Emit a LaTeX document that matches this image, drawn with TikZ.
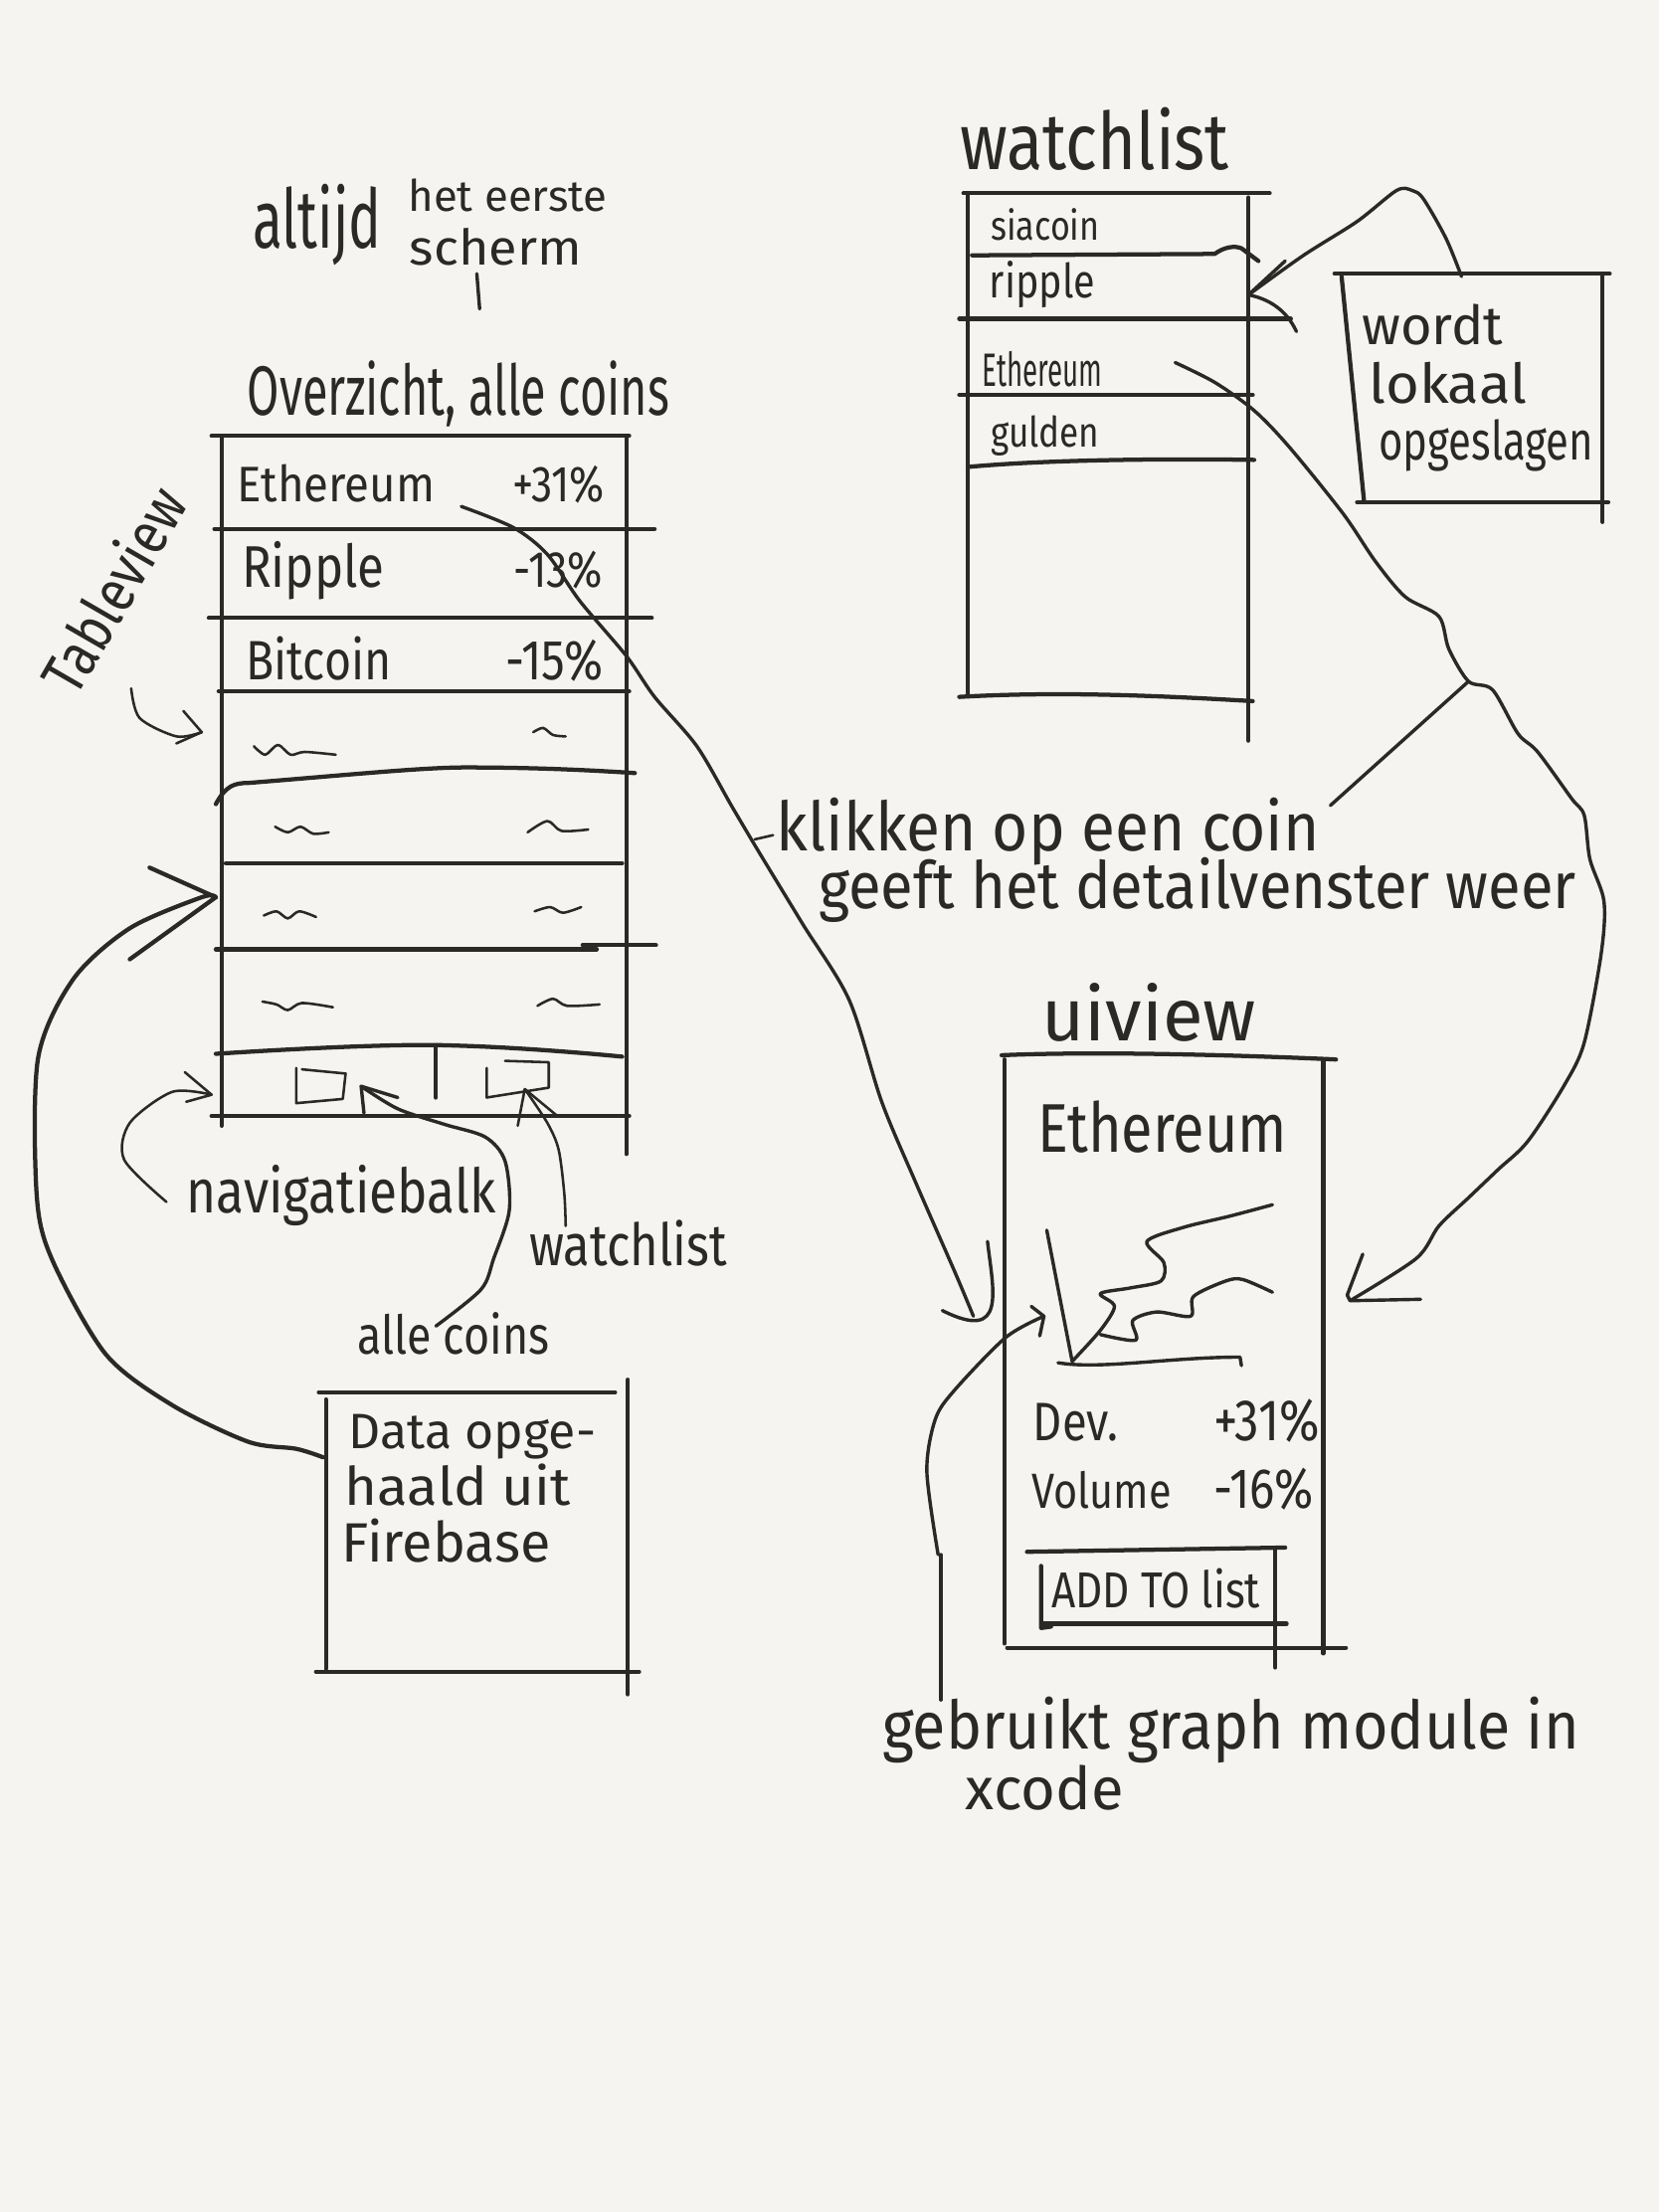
\documentclass[tikz,border=0pt]{standalone}
\usepackage{fontspec}
\setmainfont{Fira Sans}
\usepackage{graphicx}
\definecolor{paper}{HTML}{F5F4F0}
\definecolor{ink}{HTML}{2B2926}
\newlength{\hwunit}\setlength{\hwunit}{0.5pt}
\newcommand{\hw}[3][1.2]{\resizebox{#2\hwunit}{!}{\scalebox{1}[#1]{#3}}}
\begin{document}
\begin{tikzpicture}[x=0.5pt,y=-0.5pt,line cap=round,line join=round,
  ink/.style={draw=ink,line width=1.5pt},
  conn/.style={draw=ink,line width=1.2pt},
  thin/.style={draw=ink,line width=0.9pt},
  lbl/.style={inner sep=0pt,anchor=base west,text=ink}]
\fill[paper] (0,0) rectangle (1176,1568);
\useasboundingbox (0,0) rectangle (1176,1568);

% ---------- titles ----------
\node[lbl] (altijd) at (179,176) {\hw[1.5]{91}{altijd}};
\node[lbl] (heteerste) at (289,150) {\hw[1.0]{141}{het eerste}};
\node[lbl] (scherm) at (290,188) {\hw[0.95]{122}{scherm}};
\draw[conn] (338,194) -- (340,219);
\node[lbl] (overzicht) at (175,294) {\hw[1.5]{299}{Overzicht, alle coins}};
\node[text=ink,inner sep=0pt,rotate=60] (tableview) at (80,418) {\hw{160}{Tableview}};

% ---------- left table (overzicht) ----------
\draw[ink] (150,309) -- (446,309);
\draw[ink] (157,309) -- (157,798);
\draw[ink] (444,309) -- (444,818);
\draw[ink] (152,375) -- (464,375);
\draw[ink] (148,438) -- (462,438);
\draw[ink] (155,490) -- (446,490);
\draw[ink] (153,570) .. controls (160,557) and (166,555) .. (176,555) .. controls (250,549) and (300,544) .. (330,544) .. controls (380,544) and (420,546) .. (450,548);
\draw[ink] (160,612) -- (441,612);
\draw[ink] (153,673) -- (423,673);
\draw[ink] (413,670) -- (465,670);
\draw[ink] (153,747) .. controls (230,742) and (290,740) .. (317,741) .. controls (360,742) and (410,746) .. (441,749);
\draw[ink] (150,791) -- (446,791);
\draw[ink] (309,741) -- (309,778);
\draw[thin] (210,757) -- (210,782) -- (243,779) -- (245,761) -- (214,758);
\draw[thin] (345,757) -- (345,778) -- (389,771) -- (389,753) -- (358,752);

\node[lbl] (r1n) at (168,356) {\hw[1.1]{140}{Ethereum}};
\node[lbl] (r1v) at (363,356) {\hw{65}{+31\%}};
\node[lbl] (r2n) at (171,416) {\hw{101}{Ripple}};
\node[lbl] (r2v) at (364,416) {\hw{63}{-13\%}};
\node[lbl] (r3n) at (174,482) {\hw{103}{Bitcoin}};
\node[lbl] (r3v) at (358,482) {\hw{69}{-15\%}};

% scribbles
\draw[thin] plot[smooth] coordinates {(180,529) (188,535) (197,528) (206,535) (216,533) (238,535)};
\draw[thin] plot[smooth] coordinates {(378,519) (385,516) (392,521) (401,522)};
\draw[thin] plot[smooth] coordinates {(195,586) (204,590) (213,586) (222,591) (233,590)};
\draw[thin] plot[smooth] coordinates {(374,590) (388,582) (398,589) (417,588)};
\draw[thin] plot[smooth] coordinates {(187,649) (196,646) (204,651) (212,646) (224,650)};
\draw[thin] plot[smooth] coordinates {(379,646) (390,643) (399,647) (412,643)};
\draw[thin] plot[smooth] coordinates {(186,710) (196,712) (204,716) (214,711) (236,714)};
\draw[thin] plot[smooth] coordinates {(381,713) (392,708) (402,713) (425,712)};

% labels of the nav bar
\node[lbl] (navlbl) at (132,860) {\hw{219}{navigatiebalk}};
\node[lbl] (wllbl) at (375,897) {\hw{140}{watchlist}};
\node[lbl] (allelbl) at (253,960) {\hw{136}{alle coins}};

% tableview arrow
\coordinate (tv-from) at (93,488);
\coordinate (tv-to) at (143,519);
\draw[thin] plot[smooth] coordinates {(tv-from) (99,509) (125,522) (tv-to)};
\draw[thin] (130,504) -- (tv-to) -- (125,527);

% navigatiebalk arrow
\coordinate (nav-from) at (118,852);
\coordinate (nav-to) at (150,776);
\draw[thin] plot[smooth] coordinates {(nav-from) (88,822) (92,796) (122,774) (nav-to)};
\draw[thin] (131,760) -- (nav-to) -- (132,781);

% alle coins arrow
\coordinate (alle-from) at (309,940);
\coordinate (alle-to) at (256,770);
\draw[conn] plot[smooth] coordinates {(alle-from) (341,914) (350,892) (361,858) (358,823) (344,806) (315,797) (282,786) (alle-to)};
\draw[conn] (258,789) -- (alle-to) -- (282,778);

% watchlist arrow
\coordinate (wl-from) at (401,869);
\coordinate (wl-to) at (372,772);
\draw[thin] plot[smooth] coordinates {(wl-from) (400,846) (396,815) (388,796) (wl-to)};
\draw[thin] (367,798) -- (wl-to) -- (395,791);

% ---------- data box ----------
\draw[ink] (226,987) -- (436,987);
\draw[ink] (231,992) -- (231,1183);
\draw[ink] (445,978) -- (445,1201);
\draw[ink] (224,1185) -- (453,1185);
\node[lbl] (data1) at (247,1027) {\hw[1.0]{175}{Data opge-}};
\node[lbl] (data2) at (244,1067) {\hw[0.95]{160}{haald uit}};
\node[lbl] (data3) at (242,1107) {\hw[1.0]{148}{Firebase}};
\coordinate (data-from) at (229,1033);
\coordinate (data-to) at (153,636);
\draw[ink] plot[smooth] coordinates {(data-from) (210,1027) (176,1022) (122,996) (75,960) (37,893) (26,847) (27,750) (52,694) (92,658) (143,636) (data-to)};
\draw[ink] (106,615) -- (data-to) -- (92,680);

% ---------- watchlist ----------
\node[lbl] (wltitle) at (680,120) {\hw{191}{watchlist}};
\draw[ink] (683,137) -- (900,137);
\draw[ink] (686,137) -- (686,492);
\draw[ink] (885,140) -- (885,525);
\draw[ink] (689,181) -- (861,180) .. controls (868,175) and (875,174) .. (880,176) -- (892,185);
\draw[ink] (680,226) -- (915,226);
\draw[ink] (680,280) -- (888,280);
\draw[ink] (686,331) .. controls (740,326) and (820,325) .. (889,326);
\draw[ink] (680,494) .. controls (750,490) and (820,493) .. (888,497);
\node[lbl] (w1) at (702,170) {\hw{77}{siacoin}};
\node[lbl] (w2) at (701,211) {\hw{75}{ripple}};
\node[lbl] (w3) at (696,274) {\hw[1.7]{85}{Ethereum}};
\node[lbl] (w4) at (702,317) {\hw{77}{gulden}};

% ---------- wordt lokaal opgeslagen ----------
\draw[ink] (946,194) -- (1141,194);
\draw[ink] (951,196) -- (967,356);
\draw[ink] (1136,194) -- (1136,370);
\draw[ink] (962,356) -- (1140,356);
\node[lbl] (lok1) at (965,244) {\hw[1.0]{100}{wordt}};
\node[lbl] (lok2) at (970,286) {\hw[0.95]{112}{lokaal}};
\node[lbl] (lok3) at (977,326) {\hw[1.3]{152}{opgeslagen}};
\coordinate (lok-from) at (1036,196);
\coordinate (lok-to) at (885,209);
\draw[conn] plot[smooth] coordinates {(lok-from) (1025,169) (1009,141) (1001,135) (990,135) (962,157) (924,181) (lok-to)};
\draw[conn] (911,185) -- (lok-to) .. controls (900,212) and (912,220) .. (919,235);

% ---------- klikken label ----------
\node[lbl] (klik1) at (550,603) {\hw[1.1]{385}{klikken op een coin}};
\node[lbl] (klik2) at (580,644) {\hw[1.1]{537}{geeft het detailvenster weer}};
\draw[thin] (535,595) -- (548,592);

% ---------- detail view ----------
\node[lbl] (uiview) at (738,738) {\hw[1.0]{152}{uiview}};
\draw[ink] (710,748) .. controls (780,745) and (880,748) .. (947,751);
\draw[ink] (712,751) -- (712,1165);
\draw[ink] (938,751) -- (938,1172);
\draw[ink] (714,1168) -- (954,1168);
\node[lbl] (dEth) at (735,817) {\hw{177}{Ethereum}};
\draw[conn] (742,872) -- (760,965);
\draw[conn] (750,966) .. controls (780,971) and (830,962) .. (879,962) -- (880,968);
\draw[conn] plot[smooth,tension=0.5] coordinates {(760,965) (780,943) (790,926) (780,917) (801,913) (823,908) (825,895) (813,880) (839,870) (872,862) (902,854)};
\draw[conn] plot[smooth,tension=0.5] coordinates {(780,946) (805,950) (803,936) (820,930) (844,933) (846,919) (869,908) (881,907) (902,916)};
\node[lbl] (dev) at (732,1021) {\hw{60}{Dev.}};
\node[lbl] (devv) at (860,1021) {\hw{75}{+31\%}};
\node[lbl] (vol) at (731,1069) {\hw{99}{Volume}};
\node[lbl] (volv) at (860,1069) {\hw{71}{-16\%}};
\draw[ink] (728,1100) -- (911,1097);
\draw[ink] (738,1110) -- (738,1154) -- (745,1153);
\draw[ink] (740,1151) -- (912,1151);
\draw[ink] (904,1098) -- (904,1182);
\node[lbl] (btn) at (745,1140) {\hw{148}{ADD TO list}};

% ---------- bottom note ----------
\node[lbl] (geb1) at (625,1240) {\hw[1.1]{494}{gebruikt graph module in}};
\node[lbl] (geb2) at (684,1283) {\hw[1.0]{112}{xcode}};
\coordinate (geb-from) at (667,1205);
\coordinate (chart-in) at (740,933);
\draw[conn] (geb-from) -- (667,1102);
\draw[conn] plot[smooth] coordinates {(665,1102) (657,1043) (663,1006) (677,985) (713,948) (chart-in)};
\draw[conn] (731,926) -- (chart-in) -- (737,947);

% ---------- click connectors ----------
\coordinate (eth-src) at (327,359);
\coordinate (det-left) at (706,940);
\draw[conn] plot[smooth] coordinates {(eth-src) (364,374) (388,393) (411,426) (444,465) (464,494) (494,529) (519,572) (538,604) (569,655) (602,709) (625,781) (649,838) (677,902) (690,933)};
\draw[conn] (700,880) .. controls (704,915) and (714,952) .. (668,929);

\coordinate (weth-src) at (833,257);
\coordinate (det-right) at (957,922);
\coordinate (branch) at (1041,483);
\draw[conn] plot[smooth] coordinates {(weth-src) (861,271) (889,291) (914,317) (952,364) (975,398) (996,423) (1020,437) (1027,460) (branch) (1058,489) (1076,520) (1090,533) (1114,566) (1123,578) (1127,609) (1137,639) (1135,676) (1123,739) (1109,769) (1083,809) (1062,829) (1041,849) (1020,869) (1004,892) (det-right)};
\draw[conn] (966,889) -- (955,918) -- (det-right) -- (1007,921);
\draw[conn] (branch) -- (943,571);
\end{tikzpicture}
\end{document}
